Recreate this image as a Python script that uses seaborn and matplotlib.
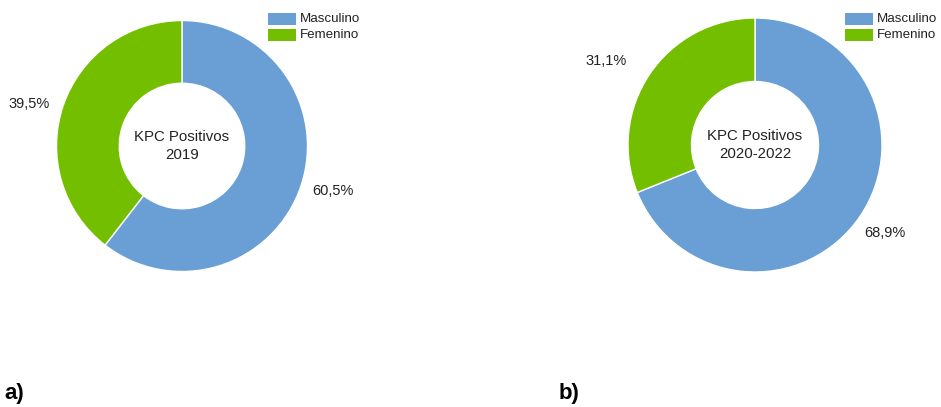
import matplotlib
matplotlib.use("Agg")
import matplotlib.pyplot as plt
import seaborn as sns

sns.set_theme(style="white")
plt.rcParams["font.family"] = ["Liberation Sans", "DejaVu Sans"]

categories = ["Masculino", "Femenino"]
values_2019 = [60.5, 39.5]
values_2020_2022 = [68.9, 31.1]
center_titles = ["KPC Positivos\n2019", "KPC Positivos\n2020-2022"]
panel_tags = ["a)", "b)"]
colors = ["#6a9fd5", "#74be00"]

W, H = 941, 407
fig = plt.figure(figsize=(W / 100, H / 100), dpi=100)
ax = fig.add_axes([0, 0, 1, 1])

panels = [
    dict(vals=values_2019, center=(182, H - 146), r=125.5, legend_x=268,
         tag_x=4, nudge=[(3, 6), (-4, -9)]),
    dict(vals=values_2020_2022, center=(755, H - 145), r=127, legend_x=845,
         tag_x=559, nudge=[(-2, 1), (-17, -5)]),
]

for p, title, tag in zip(panels, center_titles, panel_tags):
    cx, cy = p["center"]
    r = p["r"]
    wedges, texts = ax.pie(
        p["vals"], colors=colors, startangle=90, counterclock=False,
        center=(cx, cy), radius=r, frame=True,
        labels=[f"{v:.1f}%".replace(".", ",") for v in p["vals"]],
        labeldistance=1.25,
        wedgeprops=dict(width=r * 0.5, edgecolor="white", linewidth=1),
        textprops=dict(fontsize=10.5, color="#222222"),
    )
    for t, (dx, dy) in zip(texts, p["nudge"]):
        x, y = t.get_position()
        t.set_position((x + dx, y + dy))
        t.set_ha("center")
        t.set_va("center")
    ax.text(cx, cy, title, ha="center", va="center", fontsize=10.8,
            color="#222222", linespacing=1.3)
    # legend swatches and labels
    lx = p["legend_x"]
    for i, (cat, col) in enumerate(zip(categories, colors)):
        ytop = H - (13 + i * 16)
        ax.add_patch(plt.Rectangle((lx, ytop - 12), 28, 12, color=col, lw=0))
        ax.text(lx + 32, ytop - 6, cat, ha="left", va="center", fontsize=9.6,
                color="#222222")
    ax.text(p["tag_x"], H - 394, tag, ha="left", va="center", fontsize=16,
            fontweight="bold", color="black")

ax.set_xlim(0, W)
ax.set_ylim(0, H)
ax.set_aspect("equal")
ax.axis("off")
fig.savefig("out.png", dpi=100, facecolor="white")
